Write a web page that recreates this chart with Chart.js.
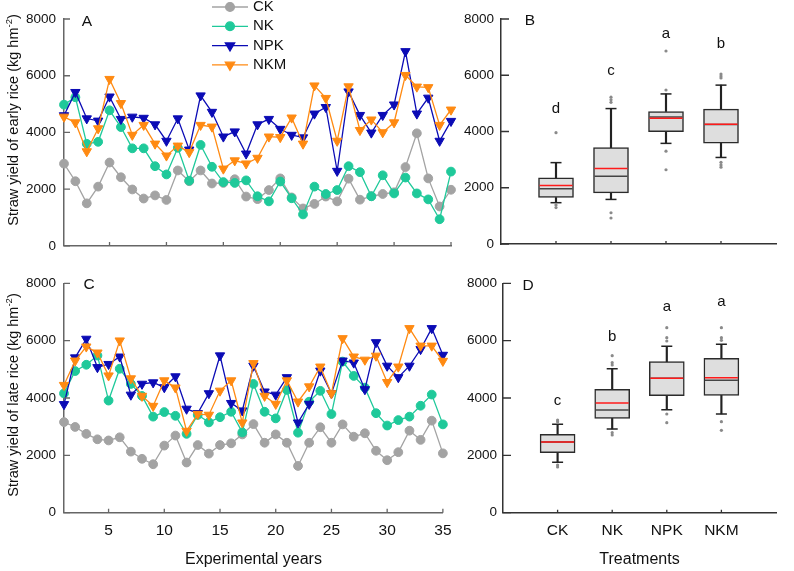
<!DOCTYPE html>
<html>
<head>
<meta charset="utf-8">
<script src="https://cdn.jsdelivr.net/npm/chart.js@4.4.1/dist/chart.umd.min.js"></script>
<style>
  body { margin: 0; background: #fff; }
  #wrap { position: relative; width: 794px; height: 571px; overflow: hidden; }
  canvas { position: absolute; }
</style>
</head>
<body>
<div id="wrap">
  <canvas id="chartA" width="460" height="262" style="left:0;top:0"></canvas>
  <canvas id="chartB" width="334" height="262" style="left:460px;top:0"></canvas>
  <canvas id="chartC" width="460" height="309" style="left:0;top:262px"></canvas>
  <canvas id="chartD" width="334" height="309" style="left:460px;top:262px"></canvas>
</div>
<script>
// ---- data ----
const years = [1,2,3,4,5,6,7,8,9,10,11,12,13,14,15,16,17,18,19,20,21,22,23,24,25,26,27,28,29,30,31,32,33,34,35];
const yearTicks = [5,10,15,20,25,30,35];
const yieldTicks = [0,2000,4000,6000,8000];
const treatments = ['CK','NK','NPK','NKM'];

// early rice straw yield (panel A)
const earlyCK  = [2900,2280,1500,2090,2940,2420,1990,1670,1780,1620,2660,2280,2660,2200,2220,2350,1740,1650,1970,2380,1710,1320,1480,1740,1570,2370,1630,1750,1830,1890,2780,3970,2380,1390,1980];
const earlyNK  = [4980,5240,3600,3670,4780,4190,3440,3440,2810,2520,3460,2300,3560,2790,2250,2220,2310,1750,1570,2270,1680,1110,2090,1830,1970,2810,2600,1750,2490,1850,2410,1850,1640,940,2620];
const earlyNPK = [4600,5420,4490,4410,5260,4470,4550,4510,4280,3700,4490,3390,5300,4720,3850,4030,3250,4280,4470,4120,3910,3820,4660,4890,2640,5440,4610,3990,4610,4980,6860,4660,5220,3700,4400];
const earlyNKM = [4550,4350,3330,4140,5880,5030,3910,4260,3600,3180,3530,3300,4260,4200,2720,3010,2900,3100,3850,3830,4520,3600,5650,5210,3700,5620,4080,4450,4000,4350,6020,5610,5590,4260,4800];

// late rice straw yield (panel C)
const lateCK  = [3160,2990,2750,2560,2520,2630,2130,1880,1690,2340,2690,1750,2360,2060,2360,2420,2730,3090,2440,2730,2440,1630,2440,2980,2440,3080,2650,2770,2160,1830,2110,2860,2540,3210,2070];
const lateNK  = [4160,4940,5160,5480,3910,5020,4490,4070,3350,3510,3380,2750,3410,3150,3330,3520,2800,4490,3520,3290,4280,2790,3870,4250,3440,5270,4770,4360,3470,3040,3230,3350,3730,4120,3080];
const lateNPK = [3780,5410,6060,5070,5180,5440,4110,4490,4540,4370,4750,3620,3470,4160,5480,3820,3560,5120,4220,4110,4720,3140,3790,4950,4160,5300,5230,4300,5940,5120,4720,5120,5700,6430,5500];
const lateNKM = [4450,5300,5790,5580,4780,6000,4680,4070,3720,4610,4360,2850,3440,3410,4250,4610,3140,5210,4070,3790,4610,3870,4400,5090,4160,6080,5440,5330,5470,4550,5090,6430,5820,5820,5290];

// box plot of early rice (panel B)
const earlyLow    = [1469,1585,3578,3077];
const earlyQ1     = [1654,1817,3994,3588];
const earlyMedian = [1967,2407,4515,4250];
const earlyMean   = [2083,2685,4467,4258];
const earlyQ3     = [2349,3425,4710,4793];
const earlyHigh   = [2893,4815,5336,5649];
const earlyOutliers = [[3959,1388,1296],[5220,5127,5036,1111,925],[6863,5475,3300,2640],[6044,5974,5905,2904,2813,2730]];
const earlyLetters = ['d','c','a','b'];
const earlyLetterY = [4665,6019,7329,6957];

// box plot of late rice (panel D)
const lateLow    = [1758,2919,3592,3442];
const lateQ1     = [2093,3292,4080,4094];
const lateMedian = [2466,3582,4687,4617];
const lateMean   = [2466,3826,4687,4708];
const lateQ3     = [2734,4303,5266,5384];
const lateHigh   = [3083,5022,5803,5872];
const lateOutliers = [[3233,3175,1663,1594],[5475,5231,5151,2790,2710],[6452,6103,5988,3442,3139],[6452,6103,6010,3174,2874]];
const lateLetters = ['c','b','a','a'];
const lateLetterY = [3756,5988,7034,7208];

const FONT = 'Arial, "Liberation Sans", sans-serif';
Chart.defaults.font.family = FONT;
Chart.defaults.color = '#111';

const seriesColors = ['#a3a3a3', '#1fc99a', '#0b0bb5', '#ff8a12'];
const seriesPoints = ['circle', 'circle', 'triangle', 'triangle'];

// per chart decoration settings
const deco = {
  chartA: { panel: 'A', panelOff: [23, 2.3], yTitle: ['Straw yield of early rice (kg hm', '-2', ')'], yTitlePos: [14, 120], tickY: 6, tickX: 4, legend: true },
  chartC: { panel: 'C', panelOff: [25, 1], yTitle: ['Straw yield of late rice (kg hm', '-2', ')'], yTitlePos: [14, 133], tickY: 6, tickX: 4 },
  chartB: { panel: 'B', panelOff: [29, 1.7], tickY: 8, tickX: 3, letters: earlyLetters, letterY: earlyLetterY },
  chartD: { panel: 'D', panelOff: [25, 2.7], tickY: 8, tickX: 3, letters: lateLetters, letterY: lateLetterY }
};

function drawMarker(ctx, style, radius, rotation, x, y) {
  if (Chart.helpers && Chart.helpers.drawPoint) {
    Chart.helpers.drawPoint(ctx, { pointStyle: style, radius: radius, rotation: rotation, borderWidth: 1 }, x, y);
  } else {
    ctx.beginPath();
    ctx.arc(x, y, radius, 0, Math.PI * 2);
    ctx.fill();
  }
}

const decoPlugin = {
  id: 'deco',
  afterDraw(chart) {
    const cfg = deco[chart.canvas.id];
    const ctx = chart.ctx;
    const area = chart.chartArea;
    const xs = chart.scales.x, ys = chart.scales.y;
    ctx.save();

    // inward tick marks
    ctx.strokeStyle = xs.options.border.color;
    ctx.lineWidth = 1.3;
    ctx.beginPath();
    ys.ticks.forEach(t => {
      const py = ys.getPixelForValue(t.value);
      ctx.moveTo(area.left, py);
      ctx.lineTo(area.left + cfg.tickY, py);
    });
    xs.ticks.forEach(t => {
      const px = xs.getPixelForValue(t.value);
      ctx.moveTo(px, area.bottom);
      ctx.lineTo(px, area.bottom - cfg.tickX);
    });
    ctx.stroke();

    // panel letter
    ctx.fillStyle = '#111';
    ctx.font = '15.5px ' + FONT;
    ctx.textAlign = 'center';
    ctx.textBaseline = 'middle';
    ctx.fillText(cfg.panel, area.left + cfg.panelOff[0], area.top + cfg.panelOff[1]);

    // y title with superscript
    if (cfg.yTitle) {
      const [main, sup, tail] = cfg.yTitle;
      ctx.save();
      ctx.translate(cfg.yTitlePos[0], cfg.yTitlePos[1]);
      ctx.rotate(-Math.PI / 2);
      ctx.textAlign = 'left';
      ctx.font = '14.5px ' + FONT;
      const w1 = ctx.measureText(main).width;
      const w3 = ctx.measureText(tail).width;
      ctx.font = '9.5px ' + FONT;
      const w2 = ctx.measureText(sup).width;
      const x0 = -(w1 + w2 + w3) / 2;
      ctx.font = '14.5px ' + FONT;
      ctx.fillText(main, x0, 0);
      ctx.font = '9.5px ' + FONT;
      ctx.fillText(sup, x0 + w1, -5);
      ctx.font = '14.5px ' + FONT;
      ctx.fillText(tail, x0 + w1 + w2, 0);
      ctx.restore();
    }

    // legend
    if (cfg.legend) {
      ctx.textAlign = 'left';
      ctx.textBaseline = 'middle';
      ctx.font = '15px ' + FONT;
      chart.data.datasets.forEach((ds, i) => {
        const ly = 7 + i * 19.3;
        ctx.strokeStyle = ds.borderColor;
        ctx.fillStyle = ds.borderColor;
        ctx.lineWidth = 1.3;
        ctx.beginPath();
        ctx.moveTo(212, ly);
        ctx.lineTo(248, ly);
        ctx.stroke();
        drawMarker(ctx, ds.pointStyle, ds.pointRadius, ds.pointRotation, 230, ly);
        ctx.fillStyle = '#111';
        ctx.fillText(ds.label, 253, ly);
      });
    }

    // significance letters
    if (cfg.letters) {
      ctx.fillStyle = '#111';
      ctx.font = '15px ' + FONT;
      ctx.textAlign = 'center';
      ctx.textBaseline = 'alphabetic';
      cfg.letters.forEach((l, i) => {
        ctx.fillText(l, xs.getPixelForValue(i + 1), ys.getPixelForValue(cfg.letterY[i]));
      });
    }
    ctx.restore();
  }
};

function yScale(width, pad, color) {
  return {
    type: 'linear', min: 0, max: 8000,
    afterBuildTicks: s => { s.ticks = yieldTicks.map(v => ({ value: v })); },
    afterFit: s => { s.width = width; },
    ticks: { font: { size: 13.5 }, padding: pad, color: '#111', callback: v => String(v) },
    grid: { display: false, drawTicks: false },
    border: { color: color, width: 1.5 }
  };
}

function lineChart(id, series, showLabels, xHeight, padTop) {
  const datasets = series.map((vals, i) => ({
    label: treatments[i],
    data: years.map((yr, k) => ({ x: yr, y: vals[k] })),
    borderColor: seriesColors[i],
    backgroundColor: seriesColors[i],
    borderWidth: 1.3,
    pointStyle: seriesPoints[i],
    pointRadius: seriesPoints[i] === 'circle' ? 4.4 : 5.4,
    pointRotation: seriesPoints[i] === 'circle' ? 0 : 180,
    pointBorderWidth: 1,
    tension: 0,
    clip: false,
    order: 4 - i
  }));
  return new Chart(document.getElementById(id), {
    type: 'line',
    data: { datasets: datasets },
    plugins: [decoPlugin],
    options: {
      responsive: false,
      animation: false,
      events: [],
      layout: { padding: { top: padTop, right: 9, bottom: 0, left: 0 } },
      plugins: { legend: { display: false }, tooltip: { enabled: false } },
      scales: {
        x: {
          type: 'linear', min: 1, max: 35,
          afterBuildTicks: s => { s.ticks = yearTicks.map(v => ({ value: v })); },
          afterFit: s => { s.height = xHeight; },
          ticks: { display: showLabels, font: { size: 15.5 }, padding: 8.5, color: '#111', callback: v => String(v) },
          grid: { display: false, drawTicks: false },
          border: { color: '#666', width: 1.5 },
          title: { display: showLabels, text: 'Experimental years', font: { size: 16 }, padding: { top: 0, bottom: 1.5 }, color: '#111' }
        },
        y: yScale(64, 8, '#666')
      }
    }
  });
}

function boxChart(id, low, q1, med, mean, q3, high, outliers, showLabels, xHeight, padTop, yWidth, yPad, padRight) {
  const at = vals => vals.map((v, i) => ({ x: i + 1, y: v }));
  const outPts = [];
  outliers.forEach((list, i) => list.forEach(v => outPts.push({ x: i + 1, y: v })));
  const datasets = [
    { type: 'bar', data: treatments.map((t, i) => ({ x: i + 1, y: [low[i], q1[i]] })), backgroundColor: '#222', barThickness: 1.5, grouped: false, order: 6 },
    { type: 'bar', data: treatments.map((t, i) => ({ x: i + 1, y: [q3[i], high[i]] })), backgroundColor: '#222', barThickness: 1.5, grouped: false, order: 6 },
    { type: 'bar', data: treatments.map((t, i) => ({ x: i + 1, y: [q1[i], q3[i]] })), backgroundColor: '#dedede', borderColor: '#2b2b2b', borderWidth: 1.5, borderSkipped: false, barThickness: 35, grouped: false, order: 4 },
    { type: 'line', showLine: false, data: at(low), pointStyle: 'line', pointRadius: 5.5, borderColor: '#222', pointBorderWidth: 1.5, order: 5 },
    { type: 'line', showLine: false, data: at(high), pointStyle: 'line', pointRadius: 5.5, borderColor: '#222', pointBorderWidth: 1.5, order: 5 },
    { type: 'line', showLine: false, data: at(med), pointStyle: 'line', pointRadius: 16.5, borderColor: '#444', pointBorderWidth: 1.5, order: 3 },
    { type: 'line', showLine: false, data: at(mean), pointStyle: 'line', pointRadius: 16.5, borderColor: '#ff1a1a', pointBorderWidth: 1.5, order: 2 },
    { type: 'line', showLine: false, data: outPts, pointStyle: 'circle', pointRadius: 1.6, backgroundColor: '#8a8a8a', borderColor: '#8a8a8a', pointBorderWidth: 0, order: 1 }
  ];
  return new Chart(document.getElementById(id), {
    type: 'bar',
    data: { datasets: datasets },
    plugins: [decoPlugin],
    options: {
      responsive: false,
      animation: false,
      events: [],
      layout: { padding: { top: padTop, right: padRight, bottom: 0, left: 0 } },
      plugins: { legend: { display: false }, tooltip: { enabled: false } },
      scales: {
        x: {
          type: 'linear', min: 0, max: 5, offset: false,
          afterBuildTicks: s => { s.ticks = [1, 2, 3, 4].map(v => ({ value: v })); },
          afterFit: s => { s.height = xHeight; },
          ticks: { display: showLabels, font: { size: 15.5 }, padding: 8.5, color: '#111', callback: v => treatments[v - 1] },
          grid: { display: false, drawTicks: false, offset: false },
          border: { color: '#333', width: 1.5 },
          title: { display: showLabels, text: 'Treatments', font: { size: 16 }, padding: { top: 0, bottom: 1.5 }, color: '#111' }
        },
        y: yScale(yWidth, yPad, '#333')
      }
    }
  });
}

lineChart('chartA', [earlyCK, earlyNK, earlyNPK, earlyNKM], false, 12.7, 19);
lineChart('chartC', [lateCK, lateNK, lateNPK, lateNKM], true, 58.3, 21.3);
boxChart('chartB', earlyLow, earlyQ1, earlyMedian, earlyMean, earlyQ3, earlyHigh, earlyOutliers, false, 12.7, 19, 41, 7, 4);
boxChart('chartD', lateLow, lateQ1, lateMedian, lateMean, lateQ3, lateHigh, lateOutliers, true, 58.3, 21.3, 43, 6, 1);
</script>
</body>
</html>
